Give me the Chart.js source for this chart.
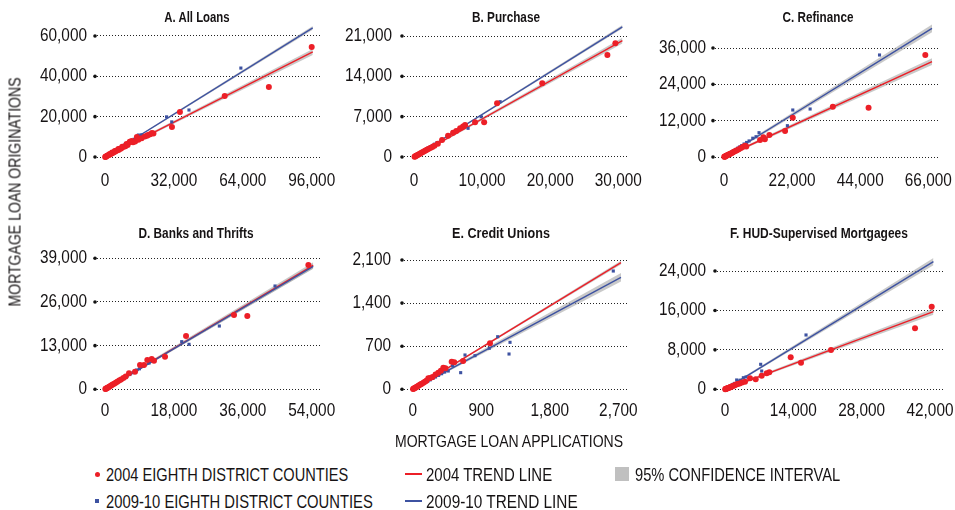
<!DOCTYPE html>
<html>
<head>
<meta charset="utf-8">
<script src="https://cdn.jsdelivr.net/npm/chart.js@4.4.1/dist/chart.umd.min.js"></script>
<style>
  html, body { margin: 0; padding: 0; background: #fff; }
  body {
    width: 955px; height: 510px; position: relative; overflow: hidden;
    font-family: 'Liberation Sans', sans-serif;
    color: #161314;
  }
  canvas { position: absolute; }
  .title, .axis-label, .legend-text {
    position: absolute; white-space: nowrap; line-height: 1;
  }
  .title { font-weight: bold; font-size: 14px; }
  .axis-label { font-size: 17px; }
  .legend-text { font-size: 19px; transform-origin: 0 50%; }
  .swatch { position: absolute; }
</style>
</head>
<body>
<script>
// ---- Panel titles and tick values ----
const titles = ['A. All Loans', 'B. Purchase', 'C. Refinance',
                'D. Banks and Thrifts', 'E. Credit Unions', 'F. HUD-Supervised Mortgagees'];

const xTickValues = [
  [0, 32000, 64000, 96000],
  [0, 10000, 20000, 30000],
  [0, 22000, 44000, 66000],
  [0, 18000, 36000, 54000],
  [0, 900, 1800, 2700],
  [0, 14000, 28000, 42000]
];
const yTickValues = [
  [0, 20000, 40000, 60000],
  [0, 7000, 14000, 21000],
  [0, 12000, 24000, 36000],
  [0, 13000, 26000, 39000],
  [0, 700, 1400, 2100],
  [0, 8000, 16000, 24000]
];

// Axis ranges (applications on x, originations on y)
const xRanges = [[-3716, 100785], [-1468, 31424], [-2907, 69133], [-2090, 56690], [-114, 2814], [-1639, 44663]];
const yRanges = [[-2479, 65950], [-868, 23083], [-1651, 43927], [-804, 40875], [-44, 2230], [-548, 27855]];

// ---- County observations: [applications, originations] ----
const allLoans2004 = [[100,60],[300,170],[500,290],[800,460],[1200,700],[1500,860],[2000,1150],[2200,1500],[2500,1420],
  [3000,1700],[3300,2200],[3500,2000],[4200,2400],[4600,3000],[5000,2850],[5800,3300],[6200,4000],[6500,3650],
  [7500,4200],[8000,5100],[8500,4900],[9500,5300],[10000,6400],[10500,5900],[11500,7600],[12400,7900],[13000,7300],
  [14000,7700],[14800,9900],[15500,8500],[17000,9300],[18500,10200],[19500,10500],[20000,10900],[21000,11300],
  [21800,11900],[22500,11700],[31100,14900],[34800,22300],[55600,30300],[76100,34700],[96000,54600]];
const allLoans0910 = [[150,100],[300,200],[600,400],[1000,650],[1300,1000],[1500,1000],[2000,1300],[2600,1700],
  [2900,2200],[3200,2100],[3800,2500],[4500,2900],[4800,3500],[5200,3400],[6000,3900],[6600,4700],[7000,4600],
  [8000,5200],[9000,5900],[10500,6800],[12000,7800],[13500,8800],[15500,10900],[17000,11000],[28600,19900],
  [31000,17400],[39000,23300],[63100,44100]];

const purchase2004 = [[80,50],[150,100],[250,160],[350,230],[450,300],[600,390],[750,480],[900,590],[1100,720],
  [1300,850],[1500,980],[1700,1120],[1900,1250],[2100,1380],[2400,1550],[2700,1750],[3000,1950],[3500,2300],
  [4120,2950],[5000,3700],[5740,4220],[6200,4500],[6770,4980],[7200,5300],[7500,5560],[8970,6020],[10300,6020],
  [12200,9320],[18830,12790],[28400,17700],[29570,19740]];
const purchase0910 = [[60,45],[120,90],[200,150],[300,220],[420,310],[550,400],[700,520],[850,630],[1000,740],
  [1200,890],[1400,1040],[1600,1190],[1850,1370],[2100,1560],[2400,1780],[2700,2000],[3000,2220],[3380,2480],
  [4120,3070],[5740,4390],[7940,4980],[9860,7000],[12650,9600]];

const refinance2004 = [[100,55],[200,110],[350,190],[500,270],[700,380],[900,480],[1100,590],[1400,750],[1700,900],
  [2000,1060],[2400,1270],[2800,1480],[3200,1700],[3700,1950],[4200,2250],[4800,2550],[5500,2950],[6200,3350],
  [6800,3740],[7200,3500],[11650,5620],[12720,6500],[13200,5900],[14660,7270],[19730,8590],[22220,12980],
  [35160,16620],[46700,16280],[65030,33690]];
const refinance0910 = [[80,60],[160,110],[300,200],[450,300],[650,420],[850,550],[1100,710],[1400,900],[1700,1100],
  [2000,1300],[2400,1560],[2800,1820],[3300,2150],[3800,2500],[4400,2900],[5000,3300],[5700,3750],[6500,4300],
  [7300,4800],[8100,5300],[9300,6200],[10350,6700],[11320,8030],[20480,10340],[22220,15520],[27820,15850],[50240,33690]];

const banks2004 = [[100,70],[200,140],[350,240],[500,350],[700,490],[900,630],[1100,770],[1400,980],[1700,1190],
  [2000,1400],[2400,1680],[2800,1960],[3200,2240],[3700,2600],[4200,2950],[4800,3350],[5400,3800],[6270,4760],
  [7840,5240],[9150,7230],[10190,7230],[11050,8720],[12200,9020],[12800,8510],[15680,9700],[21170,15870],
  [33700,22120],[37180,21820],[53130,37000]];
const banks0910 = [[80,55],[160,110],[300,205],[450,305],[650,440],[850,575],[1100,745],[1400,945],[1700,1150],
  [2000,1350],[2400,1620],[2800,1890],[3300,2230],[3800,2570],[4400,2970],[5000,3380],[5700,3850],[6500,4400],
  [7300,4950],[8280,5750],[9000,6100],[10010,6940],[11500,7800],[20040,14180],[21950,13390],[29870,18840],[44420,30750]];

const creditUnions2004 = [[5,4],[12,9],[20,15],[30,23],[40,30],[50,38],[60,45],[75,57],[90,68],[105,80],[120,92],
  [140,107],[160,122],[180,138],[205,178],[230,185],[260,200],[300,240],[336,270],[370,300],[402,351],[430,340],
  [512,448],[546,438],[662,460],[1015,747]];
const creditUnions0910 = [[4,3],[10,7],[18,12],[28,19],[38,25],[50,33],[65,43],[80,53],[100,66],[120,80],[145,96],
  [170,113],[200,133],[230,153],[265,176],[300,200],[340,226],[380,253],[420,280],[467,297],[525,383],[630,270],
  [687,557],[818,546],[1006,666],[1116,854],[1265,573],[1278,763],[2634,1921]];

const hud2004 = [[50,25],[120,55],[200,90],[300,130],[400,170],[500,210],[650,270],[800,330],[950,390],[1100,450],
  [1300,540],[1500,620],[1750,720],[2000,820],[2300,950],[2600,1070],[3000,1200],[3500,1400],[4100,1540],
  [5120,2230],[6290,2030],[7520,2760],[8540,3250],[9080,3450],[13460,6490],[15570,5400],[21720,7970],
  [38930,12370],[42350,16760]];
const hud0910 = [[40,30],[100,65],[180,110],[280,170],[380,230],[500,300],[650,390],[800,480],[1000,600],
  [1200,720],[1450,870],[1700,1020],[2000,1200],[2390,1890],[2700,1650],[3100,1850],[3760,2350],[4300,2500],
  [7310,5070],[7520,3710],[16600,11020]];

const points2004 = [allLoans2004, purchase2004, refinance2004, banks2004, creditUnions2004, hud2004];
const points0910 = [allLoans0910, purchase0910, refinance0910, banks0910, creditUnions0910, hud0910];

// ---- Fitted trend lines: [start, end] as [applications, originations] ----
const trend2004 = [
  [[0, 0], [96500, 52100]],
  [[0, 0], [30600, 20200]],
  [[0, 0], [67200, 31500]],
  [[0, 0], [54400, 36900]],
  [[0, 0], [2735, 2056]],
  [[0, 0], [42700, 15750]]
];
const trend0910 = [
  [[0, 0], [96500, 64000]],
  [[0, 0], [30600, 22600]],
  [[0, 0], [67200, 42500]],
  [[0, 0], [54400, 36600]],
  [[0, 0], [2735, 1819]],
  [[0, 0], [42700, 25900]]
];
// 95% confidence half-widths at the start and end of each trend line
const ci2004 = [[400, 1500], [150, 500], [300, 1150], [300, 900], [8, 30], [150, 650]];
const ci0910 = [[300, 900], [100, 300], [300, 1300], [200, 700], [12, 70], [150, 750]];

// ---- Styling / layout ----
const TICK_FONT = "'Liberation Sans', sans-serif";
const RED = '#ec1f27';
const BLUE = '#3d52a1';
const BAND = 'rgba(165,165,165,0.6)';
const TEXT = '#161314';

// plot-area rectangles on the page
const plotAreas = [
  { l: 97,  r: 322, t: 24,  b: 162 },
  { l: 404, r: 628, t: 24,  b: 162 },
  { l: 715, r: 938, t: 24,  b: 162 },
  { l: 97,  r: 322, t: 252, b: 392 },
  { l: 404, r: 627, t: 252, b: 392 },
  { l: 717, r: 943, t: 252, b: 392 }
];
const yLabelGap = [10, 12, 9, 10, 13, 11];
const titlePos = [[197, 17], [506, 17], [818, 17], [196, 233], [501, 233], [819, 233]];
const titleWidth = [65, 68, 71, 115, 98, 178];

const Y_W = 75, X_H = 30, PAD_T = 30, PAD_R = 34;

// Condensed numerals: squeeze canvas text horizontally around its anchor point.
const TICK_SQUEEZE = (() => {
  const c = document.createElement('canvas').getContext('2d');
  c.font = '18px ' + TICK_FONT;
  return 47 / c.measureText('36,000').width;
})();
const nativeFillText = CanvasRenderingContext2D.prototype.fillText;
CanvasRenderingContext2D.prototype.fillText = function (text, x, y) {
  this.save();
  this.translate(x, y);
  this.scale(TICK_SQUEEZE, 1);
  nativeFillText.call(this, text, 0, 0);
  this.restore();
};

const tickDots = {
  id: 'tickDots',
  afterDraw(chart) {
    const { ctx, chartArea, scales: { y } } = chart;
    ctx.save();
    ctx.fillStyle = '#111';
    y.ticks.forEach((t, i) => {
      const py = y.getPixelForTick(i);
      ctx.beginPath();
      ctx.arc(chartArea.left - 2, py, 1.8, 0, Math.PI * 2);
      ctx.fill();
    });
    ctx.restore();
  }
};

const toXY = arr => arr.map(([x, y]) => ({ x, y }));
const bandEdge = (seg, hw, sign) => seg.map(([x, y], k) => ({ x, y: y + sign * hw[k] }));

function lineSet(data, color, order) {
  return { data, showLine: true, borderColor: color, borderWidth: 1.4, pointRadius: 0, fill: false, order };
}
function bandSets(seg, hw) {
  return [
    { data: bandEdge(seg, hw, -1), showLine: true, borderColor: 'transparent', borderWidth: 0, pointRadius: 0, fill: false, order: 8 },
    { data: bandEdge(seg, hw, 1), showLine: true, borderColor: 'transparent', borderWidth: 0, pointRadius: 0, fill: '-1', backgroundColor: BAND, order: 8 }
  ];
}

// HTML text helper: squeezes the text to a given rendered width
function addText(cls, text, css, width, extraTransform) {
  const d = document.createElement('div');
  d.className = cls;
  d.textContent = text;
  Object.assign(d.style, css);
  document.body.appendChild(d);
  const k = width / d.offsetWidth;
  d.style.transform = extraTransform + ' scaleX(' + k.toFixed(4) + ')';
  return d;
}

titles.forEach((title, i) => {
  const a = plotAreas[i];
  const left = a.l - Y_W, top = a.t - PAD_T;
  const w = a.r + PAD_R - left, h = a.b + X_H - top;
  const cv = document.createElement('canvas');
  cv.width = w; cv.height = h;
  cv.style.left = left + 'px'; cv.style.top = top + 'px';
  cv.style.width = w + 'px'; cv.style.height = h + 'px';
  document.body.appendChild(cv);

  const datasets = [
    ...bandSets(trend2004[i], ci2004[i]),
    ...bandSets(trend0910[i], ci0910[i]),
    lineSet(toXY(trend2004[i]), RED, 5),
    lineSet(toXY(trend0910[i]), BLUE, 4),
    { data: toXY(points0910[i]), showLine: false, pointStyle: 'rect', pointRadius: 2.2,
      backgroundColor: BLUE, borderWidth: 0, clip: false, order: 2 },
    { data: toXY(points2004[i]), showLine: false, pointStyle: 'circle', pointRadius: 3,
      backgroundColor: RED, borderWidth: 0, clip: false, order: 1 }
  ];

  new Chart(cv, {
    type: 'scatter',
    data: { datasets },
    options: {
      responsive: false,
      animation: false,
      events: [],
      layout: { padding: { top: PAD_T, right: PAD_R, left: 0, bottom: 0 } },
      plugins: { legend: { display: false }, tooltip: { enabled: false } },
      scales: {
        x: {
          type: 'linear', min: xRanges[i][0], max: xRanges[i][1],
          afterBuildTicks: s => { s.ticks = xTickValues[i].map(v => ({ value: v })); },
          afterFit: s => { s.height = X_H; },
          grid: { display: false, drawTicks: false },
          border: { display: false },
          ticks: {
            padding: 8, maxRotation: 0, autoSkip: false, color: TEXT,
            font: { family: TICK_FONT, size: 18 },
            callback: v => Number(v).toLocaleString('en-US')
          }
        },
        y: {
          type: 'linear', min: yRanges[i][0], max: yRanges[i][1],
          afterBuildTicks: s => { s.ticks = yTickValues[i].map(v => ({ value: v })); },
          afterFit: s => { s.width = Y_W; },
          grid: { color: '#222', lineWidth: 1, drawTicks: false },
          border: { display: false, dash: [1, 2] },
          ticks: {
            padding: yLabelGap[i], color: TEXT,
            font: { family: TICK_FONT, size: 18 },
            callback: v => Number(v).toLocaleString('en-US')
          }
        }
      }
    },
    plugins: [tickDots]
  });

  addText('title', title, { left: titlePos[i][0] + 'px', top: titlePos[i][1] + 'px' },
    titleWidth[i], 'translate(-50%,-50%)');
});

// ---- Shared axis titles ----
addText('axis-label', 'MORTGAGE LOAN APPLICATIONS', { left: '509px', top: '441px' },
  228, 'translate(-50%,-50%)');
addText('axis-label', 'MORTGAGE LOAN ORIGINATIONS', { left: '15px', top: '192px' },
  229, 'translate(-50%,-50%) rotate(-90deg)');

// ---- Legend ----
function swatch(css) {
  const s = document.createElement('div');
  s.className = 'swatch';
  Object.assign(s.style, css);
  document.body.appendChild(s);
}
swatch({ left: '95px', top: '472px', width: '5px', height: '5px', borderRadius: '50%', background: RED });
addText('legend-text', '2004 EIGHTH DISTRICT COUNTIES', { left: '106px', top: '474px' }, 242, 'translateY(-50%)');
swatch({ left: '405px', top: '473px', width: '17px', height: '2px', background: RED });
addText('legend-text', '2004 TREND LINE', { left: '426px', top: '474px' }, 126, 'translateY(-50%)');
swatch({ left: '615px', top: '467px', width: '14px', height: '14px', background: '#c0c0c0' });
addText('legend-text', '95% CONFIDENCE INTERVAL', { left: '635px', top: '474px' }, 205, 'translateY(-50%)');

swatch({ left: '95px', top: '499px', width: '4px', height: '4px', background: BLUE });
addText('legend-text', '2009-10 EIGHTH DISTRICT COUNTIES', { left: '106px', top: '501px' }, 267, 'translateY(-50%)');
swatch({ left: '405px', top: '500px', width: '17px', height: '2px', background: BLUE });
addText('legend-text', '2009-10 TREND LINE', { left: '426px', top: '501px' }, 152, 'translateY(-50%)');
</script>
</body>
</html>
